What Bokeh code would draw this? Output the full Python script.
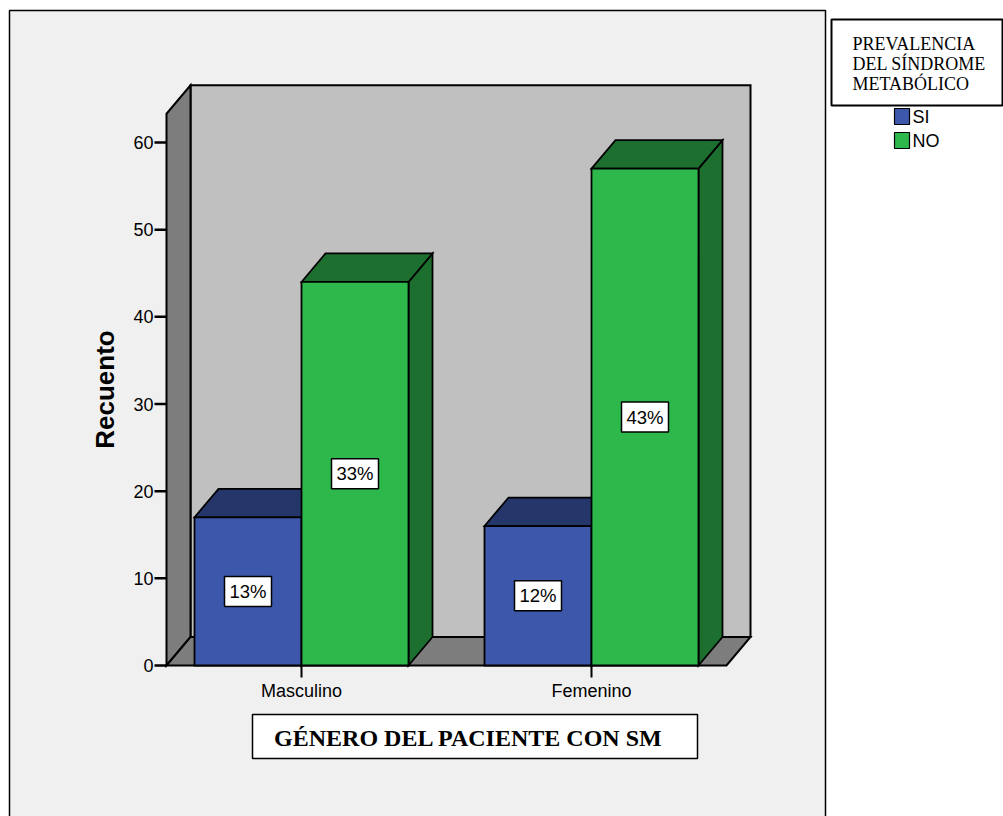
from bokeh.plotting import figure
from bokeh.models import Range1d
from bokeh.core.properties import value
from bokeh.embed import file_html
from bokeh.resources import INLINE

# ---- data -------------------------------------------------------------
CATEGORIES = ["Masculino", "Femenino"]
SERIES = ["SI", "NO"]
SI_COUNTS = [17, 16]
NO_COUNTS = [44, 57]
Y_TICKS = [0, 10, 20, 30, 40, 50, 60]
Y_TITLE = "Recuento"
X_TITLE = "GÉNERO DEL PACIENTE CON SM"
LEGEND_TITLE = ["PREVALENCIA", "DEL SÍNDROME", "METABÓLICO"]

# ---- colours / fonts --------------------------------------------------
FRONT = {"SI": "#3d58ab", "NO": "#2eb84b"}
DARK = {"SI": "#25366a", "NO": "#1c6f2f"}
WALL_BACK = "#c0c0c0"
WALL_SIDE = "#7d7d7d"
PANEL = "#f0f0f0"
SANS = value("Liberation Sans")
SERIF = value("Liberation Serif")

# ---- canvas and scales ------------------------------------------------
W, H = 1003, 816
ORIGIN_X, ORIGIN_Y = 301, 665      # canvas pixel of category 0 / count 0
PX_PER_CAT = 290.0
PX_PER_COUNT = 523.0 / 60.0


def sx(px):
    """canvas pixel column -> x data coordinate"""
    return (px - ORIGIN_X) / PX_PER_CAT


def sy(py):
    """canvas pixel row -> y data coordinate"""
    return (ORIGIN_Y - py) / PX_PER_COUNT


p = figure(
    width=W, height=H,
    x_range=Range1d(sx(0), sx(W)), y_range=Range1d(sy(H), sy(0)),
    x_axis_location=None, y_axis_location=None,
    toolbar_location=None, output_backend="svg",
    min_border=0, outline_line_color=None,
    background_fill_color="white", border_fill_color="white",
)
p.xgrid.visible = False
p.ygrid.visible = False

# 3D geometry
DX = 24 / PX_PER_CAT
DY = 28.5 / PX_PER_COUNT
BAR_W = 107 / PX_PER_CAT
WALL_X0, WALL_X1 = sx(166), sx(726)
Y_MAX = 63.3

# ---- outer panel ------------------------------------------------------
p.patch([sx(9), sx(9), sx(825), sx(825)], [sy(830), sy(10), sy(10), sy(830)],
        fill_color=PANEL, line_color="black", line_width=1.5)

# ---- walls and floor --------------------------------------------------
wall_xs = [
    [WALL_X0 + DX, WALL_X1 + DX, WALL_X1 + DX, WALL_X0 + DX],
    [WALL_X0, WALL_X0 + DX, WALL_X0 + DX, WALL_X0],
    [WALL_X0, WALL_X0 + DX, WALL_X1 + DX, WALL_X1],
]
wall_ys = [
    [DY, DY, Y_MAX + DY, Y_MAX + DY],
    [Y_MAX, Y_MAX + DY, DY, 0],
    [0, DY, DY, 0],
]
p.patches(wall_xs, wall_ys, fill_color=[WALL_BACK, WALL_SIDE, WALL_SIDE],
          line_color="black", line_width=2, line_join="miter")

# ---- 3D bars ----------------------------------------------------------
xs, ys, cols = [], [], []


def add_box(x0, x1, top, series):
    # right side, top, front (back to front)
    xs.append([x1, x1 + DX, x1 + DX, x1])
    ys.append([0, DY, top + DY, top])
    cols.append(DARK[series])
    xs.append([x0, x0 + DX, x1 + DX, x1])
    ys.append([top, top + DY, top + DY, top])
    cols.append(DARK[series])
    xs.append([x0, x1, x1, x0])
    ys.append([0, 0, top, top])
    cols.append(FRONT[series])


for i, (si, no) in enumerate(zip(SI_COUNTS, NO_COUNTS)):
    add_box(i - BAR_W, i, si, "SI")
    add_box(i, i + BAR_W, no, "NO")

p.patches(xs, ys, fill_color=cols, line_color="black", line_width=1.8,
          line_join="miter")

# ---- percentage labels ------------------------------------------------
total = sum(SI_COUNTS) + sum(NO_COUNTS)
lab_x, lab_y, lab_t = [], [], []
for i, (si, no) in enumerate(zip(SI_COUNTS, NO_COUNTS)):
    for x0, v in ((i - BAR_W, si), (i, no)):
        lab_x.append(x0 + BAR_W / 2)
        lab_y.append(v / 2)
        lab_t.append(f"{round(100 * v / total)}%")

p.rect(lab_x, lab_y, width=47, height=30, width_units="screen",
       height_units="screen", fill_color="white", line_color="black",
       line_width=1.5)
p.text(lab_x, lab_y, text=lab_t, text_font=SANS, text_font_size="18.5px",
       text_align="center", text_baseline="middle", text_color="black")

# ---- value axis -------------------------------------------------------
tick_len = 12 / PX_PER_CAT
p.segment([WALL_X0 - tick_len] * len(Y_TICKS), Y_TICKS,
          [WALL_X0] * len(Y_TICKS), Y_TICKS, line_color="black", line_width=2.5)
p.text([sx(153)] * len(Y_TICKS), Y_TICKS, text=[str(t) for t in Y_TICKS],
       text_font=SANS, text_font_size="18px", text_align="right",
       text_baseline="middle", text_color="black")
p.text([sx(104)], [sy(389)], text=[Y_TITLE], angle=1.5707963,
       text_font=SANS, text_font_size="26px", text_font_style="bold",
       text_align="center", text_baseline="middle", text_color="black")

# ---- category axis ----------------------------------------------------
cat_x = list(range(len(CATEGORIES)))
p.segment(cat_x, [0] * len(cat_x), cat_x, [sy(677)] * len(cat_x),
          line_color="black", line_width=2)
p.text(cat_x, [sy(690)] * len(cat_x), text=CATEGORIES, text_font=SANS,
       text_font_size="18px", text_align="center", text_baseline="middle",
       text_color="black")

p.patch([sx(252), sx(697), sx(697), sx(252)], [sy(714), sy(714), sy(758), sy(758)],
        fill_color="white", line_color="black", line_width=1.5)
p.text([sx(468)], [sy(737)], text=[X_TITLE], text_font=SERIF,
       text_font_size="24px", text_font_style="bold", text_align="center",
       text_baseline="middle", text_color="black")

# ---- legend -----------------------------------------------------------
p.patch([sx(831), sx(1002), sx(1002), sx(831)], [sy(19), sy(19), sy(105), sy(105)],
        fill_color="white", line_color="black", line_width=2)
p.text([sx(852)] * 3, [sy(43), sy(63), sy(83)], text=LEGEND_TITLE,
       text_font=SERIF, text_font_size="18px", text_align="left",
       text_baseline="middle", text_color="black")
leg_y = [sy(116), sy(140)]
p.rect([sx(901.5)] * 2, leg_y, width=15, height=16, width_units="screen",
       height_units="screen", fill_color=[FRONT[s] for s in SERIES],
       line_color="black", line_width=1.2)
p.text([sx(912)] * 2, leg_y, text=SERIES, text_font=SANS,
       text_font_size="18px", text_align="left", text_baseline="middle",
       text_color="black")

open("out.html", "w").write(file_html(p, INLINE))
